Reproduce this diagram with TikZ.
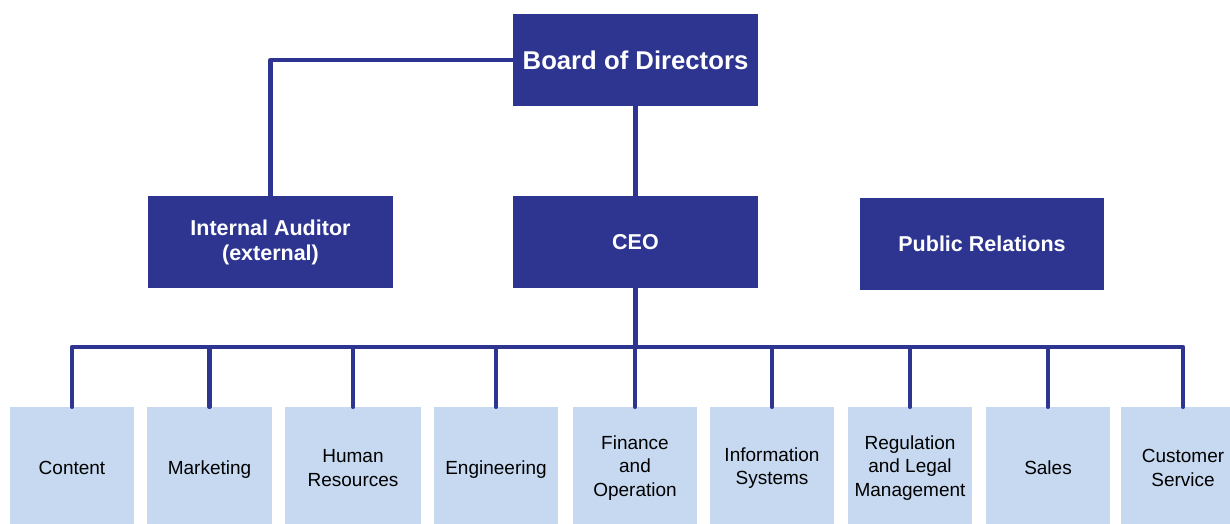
\documentclass[tikz,border=0pt]{standalone}
\usepackage{fontspec}
\setmainfont{Liberation Sans}
\usetikzlibrary{calc}
\definecolor{boardblue}{RGB}{46,53,144}
\definecolor{deptblue}{RGB}{198,217,240}
\tikzset{
  head/.style={fill=boardblue, text=white, font=\bfseries\fontsize{21.5}{25}\selectfont, align=center, minimum width=245pt, minimum height=92pt, inner sep=0pt},
  dept/.style={fill=deptblue, text=black, font=\fontsize{19}{23.5}\selectfont, align=center, minimum width=124pt, minimum height=122pt, inner sep=0pt},
  link/.style={draw=boardblue, line width=4.5pt, line cap=round, line join=round}
}
\begin{document}
\begin{tikzpicture}[x=1pt, y=-1pt]
			%%%%% TOP %%%%%
			\useasboundingbox (0, 0) rectangle (1230, 523);
			
			\node[head, font=\bfseries\fontsize{25.7}{30}\selectfont] (board) at (635.5, 60) {Board of Directors};
			\node[head] (ceo) at (635.5, 242) {CEO};
			\node[head] (auditor) at (270.5, 242) {Internal Auditor\\(external)};
			\node[head, minimum width=244pt] (pr) at (982, 244) {Public Relations};
			
			\draw[link] (board.west) -| (auditor.north);
			\draw[link] (board.south) -- (ceo.north);
			
			%%%%% DEPARTMENTS %%%%%
			\node[dept] (content) at (72, 468) {Content};
			\node[dept, minimum width=125pt, text depth=0pt] (marketing) at (209.5, 468) {Marketing};
			\node[dept, minimum width=136pt] (hr) at (353, 468) {Human\\Resources};
			\node[dept, text depth=0pt] (engineering) at (496, 468) {Engineering};
			\node[dept] (finance) at (635, 468) {Finance\\and\\Operation};
			\node[dept] (infosys) at (772, 468) {Information\\Systems};
			\node[dept] (regulation) at (910, 468) {Regulation\\and Legal\\Management};
			\node[dept] (sales) at (1048, 468) {Sales};
			\node[dept] (customer) at (1183, 468) {Customer\\Service};
			
			\coordinate (bus) at ($(ceo.south |- 0, 347)$);
			\draw[link] (ceo.south) -- (bus);
			
			\draw[link] (bus) -| (content.north);
			\draw[link] (bus) -| (marketing.north);
			\draw[link] (bus) -| (hr.north);
			\draw[link] (bus) -| (engineering.north);
			\draw[link] (bus) -| (finance.north);
			\draw[link] (bus) -| (infosys.north);
			\draw[link] (bus) -| (regulation.north);
			\draw[link] (bus) -| (sales.north);
			\draw[link] (bus) -| (customer.north);
			
			%%%%% END %%%%%
		\end{tikzpicture}
\end{document}
